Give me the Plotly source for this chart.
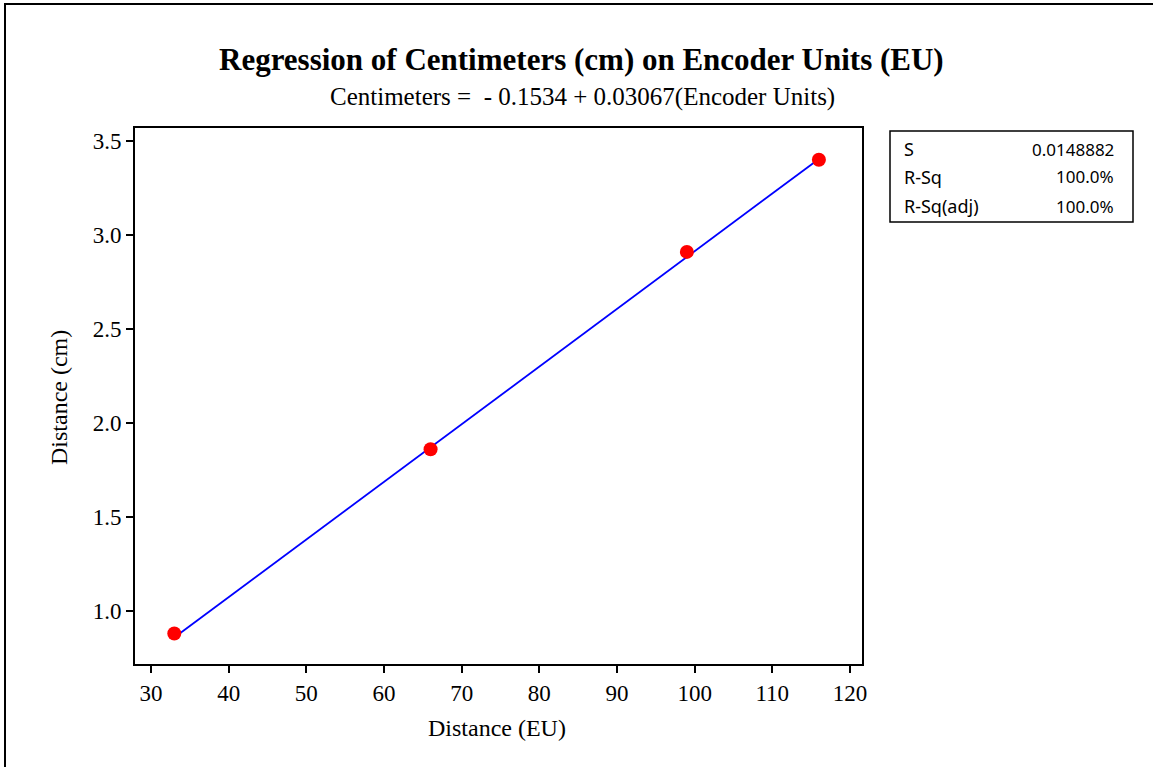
import plotly.graph_objects as go

# Data
encoder_units = [33, 66, 99, 116]
centimeters = [0.88, 1.86, 2.91, 3.40]
INTERCEPT = -0.1534
SLOPE = 0.03067
fit_x = [33, 116]
fit_y = [INTERCEPT + SLOPE * v for v in fit_x]

x_ticks = [30, 40, 50, 60, 70, 80, 90, 100, 110, 120]
y_ticks = [1.0, 1.5, 2.0, 2.5, 3.0, 3.5]
y_tick_labels = ["1.0", "1.5", "2.0", "2.5", "3.0", "3.5"]

stat_labels = ["S", "R-Sq", "R-Sq(adj)"]
stat_values = ["0.0148882", "100.0%", "100.0%"]

serif = "Liberation Serif, Times New Roman, serif"
sans = "Noto Sans, Tahoma, sans-serif"

fig = go.Figure()
fig.add_trace(go.Scatter(x=fit_x, y=fit_y, mode="lines",
                         line=dict(color="#0000ff", width=1.8), showlegend=False))
fig.add_trace(go.Scatter(x=encoder_units, y=centimeters, mode="markers",
                         marker=dict(color="#ff0000", size=14, line=dict(width=0)),
                         showlegend=False))

L, R, T, B = 135, 291, 128, 103
W, H = 1153, 767
pw, ph = W - L - R, H - T - B

def px(x):
    return (x - L) / pw

def py(y):
    return (H - B - y) / ph

fig.update_layout(
    width=W, height=H,
    margin=dict(l=L, r=R, t=T, b=B),
    paper_bgcolor="white", plot_bgcolor="white",
    font=dict(family=serif, size=22, color="black"),
    xaxis=dict(range=[27.94, 121.55], tickvals=x_ticks, ticks="outside", ticklen=7,
               tickwidth=2, tickcolor="black", showline=True, linecolor="black",
               linewidth=2, mirror=True, showgrid=False, zeroline=False,
               tickfont=dict(family=serif, size=23)),
    yaxis=dict(range=[0.718, 3.569], tickvals=y_ticks, ticktext=y_tick_labels,
               ticks="outside", ticklen=7, tickwidth=2, tickcolor="black",
               showline=True, linecolor="black", linewidth=2, mirror=True,
               showgrid=False, zeroline=False,
               tickfont=dict(family=serif, size=23)),
)

annotations = [
    dict(text="<b>Regression of Centimeters (cm) on Encoder Units (EU)</b>",
         xref="paper", yref="paper", x=px(581), y=py(60), showarrow=False,
         font=dict(family=serif, size=31), xanchor="center", yanchor="middle"),
    dict(text="Centimeters =  - 0.1534 + 0.03067(Encoder Units)",
         xref="paper", yref="paper", x=px(582), y=py(97), showarrow=False,
         font=dict(family=serif, size=25), xanchor="center", yanchor="middle"),
    dict(text="Distance (EU)", xref="paper", yref="paper", x=px(497), y=py(728),
         showarrow=False, font=dict(family=serif, size=24),
         xanchor="center", yanchor="middle"),
    dict(text="Distance (cm)", xref="paper", yref="paper", x=px(59), y=py(398),
         showarrow=False, font=dict(family=serif, size=24), textangle=-90,
         xanchor="center", yanchor="middle"),
]
row_y = [149, 177, 206]
for lab, val, ry in zip(stat_labels, stat_values, row_y):
    annotations.append(dict(text=lab, xref="paper", yref="paper", x=px(902), y=py(ry),
                            showarrow=False, xanchor="left", yanchor="middle",
                            font=dict(family=sans, size=18)))
    annotations.append(dict(text=val, xref="paper", yref="paper", x=px(1116), y=py(ry),
                            showarrow=False, xanchor="right", yanchor="middle",
                            font=dict(family=sans, size=17)))
fig.update_layout(annotations=annotations)

fig.update_layout(shapes=[
    dict(type="rect", xref="paper", yref="paper", x0=px(5), x1=px(1170), y0=py(790), y1=py(4),
         line=dict(color="black", width=2), fillcolor="rgba(0,0,0,0)", layer="below"),
    dict(type="rect", xref="paper", yref="paper", x0=px(890), x1=px(1133), y0=py(222), y1=py(131),
         line=dict(color="black", width=1.5), fillcolor="rgba(0,0,0,0)"),
])

fig.write_html("out.html")
